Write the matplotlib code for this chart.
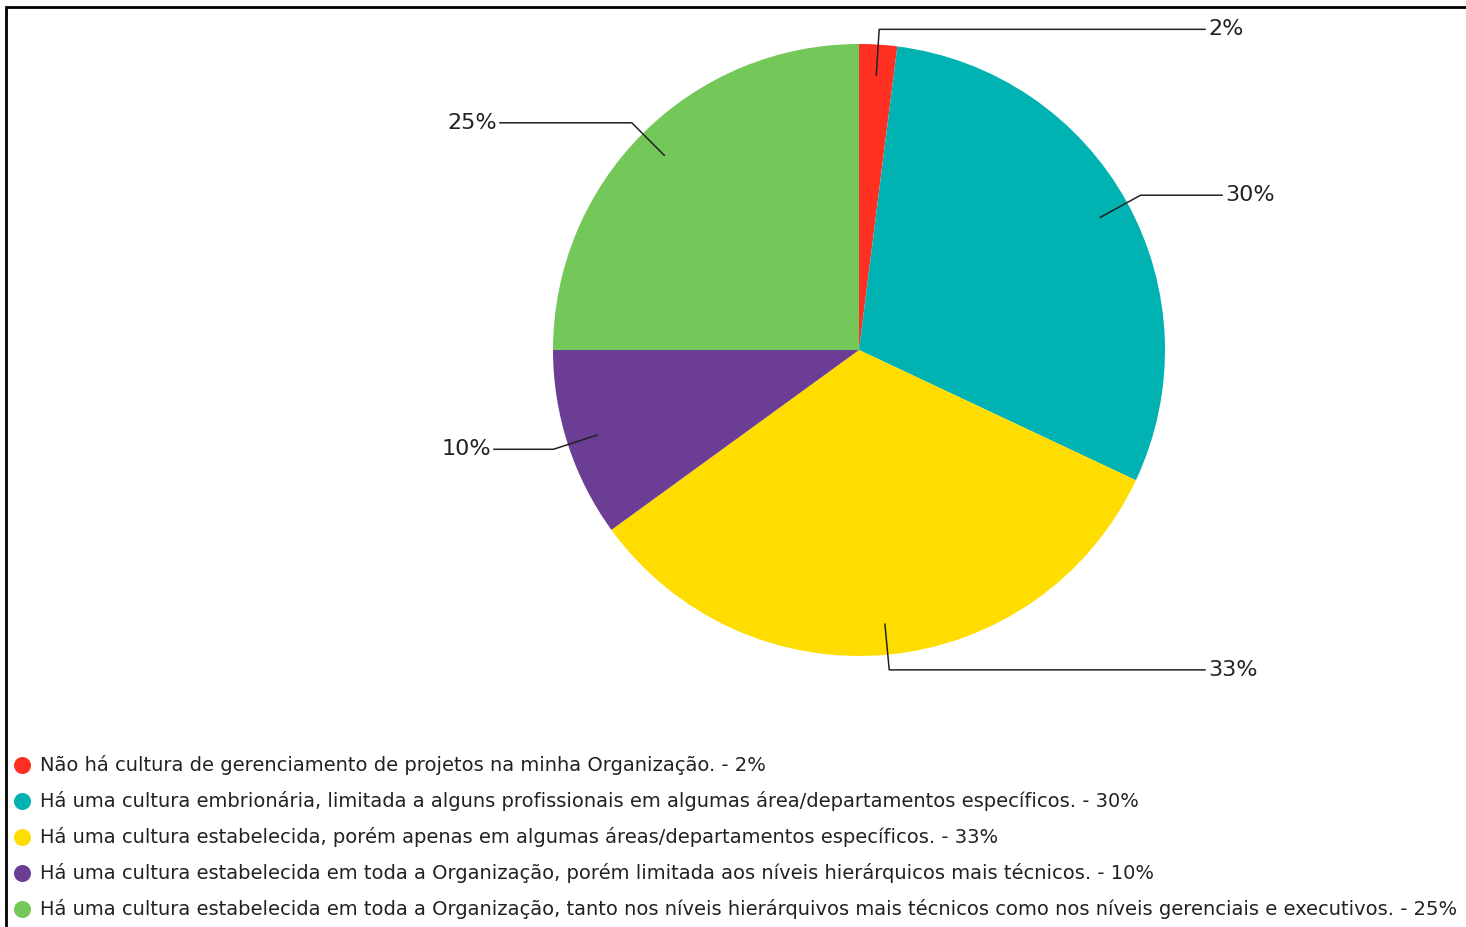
import matplotlib.pyplot as plt
from matplotlib.patches import Rectangle
import numpy as np

plt.rcParams["font.family"] = "DejaVu Sans"

# respostas (%) no sentido horário a partir do topo
categorias = [
    "Não há cultura de gerenciamento de projetos na minha Organização.",
    "Há uma cultura embrionária, limitada a alguns profissionais em algumas área/departamentos específicos.",
    "Há uma cultura estabelecida, porém apenas em algumas áreas/departamentos específicos.",
    "Há uma cultura estabelecida em toda a Organização, porém limitada aos níveis hierárquicos mais técnicos.",
    "Há uma cultura estabelecida em toda a Organização, tanto nos níveis hierárquivos mais técnicos como nos níveis gerenciais e executivos.",
]
percentuais = [2, 30, 33, 10, 25]
cores = ["#FF3021", "#00B2B2", "#FFDD00", "#6B3D95", "#74C859"]

# fim da linha horizontal de cada rótulo (px)
fim_rotulo = [1205, 1222, 1205, 494, 500]

W, H = 1466, 927
fig = plt.figure(figsize=(W / 100, H / 100), dpi=100)
ax = fig.add_axes([0, 0, 1, 1])

cx, cy, R = 859, H - 350, 306
fatias, _ = ax.pie(percentuais, colors=cores, startangle=90, counterclock=False,
                   center=(cx, cy), radius=R, wedgeprops=dict(linewidth=0))
ax.set_xlim(0, W)
ax.set_ylim(0, H)
ax.axis("off")

cor_texto = "#222222"
inicio = 0
for p, xf in zip(percentuais, fim_rotulo):
    meio = np.deg2rad(90 - 3.6 * (inicio + p / 2))
    inicio += p
    x0, y0 = cx + 0.9 * R * np.cos(meio), cy + 0.9 * R * np.sin(meio)
    x1, y1 = cx + 1.05 * R * np.cos(meio), cy + 1.05 * R * np.sin(meio)
    ax.plot([x0, x1, xf], [y0, y1, y1], color="#222222", lw=1.1)
    if xf > x1:
        ax.text(xf + 3, y1, f"{p}%", ha="left", va="center", fontsize=16, color=cor_texto)
    else:
        ax.text(xf - 3, y1, f"{p}%", ha="right", va="center", fontsize=16, color=cor_texto)

# legenda
for i, (nome, p, c) in enumerate(zip(categorias, percentuais, cores)):
    y = H - (765 + 36 * i)
    ax.scatter(22, y, s=150, color=c, linewidths=0)
    ax.text(40, y, f"{nome} - {p}%", ha="left", va="center", fontsize=14.05, color=cor_texto)

# moldura
fig.patches.append(Rectangle((6 / W, -0.1), 1.2, (H - 7) / H + 0.1, transform=fig.transFigure,
                             fill=False, edgecolor="black", linewidth=2))

fig.savefig("out.png", dpi=100)
